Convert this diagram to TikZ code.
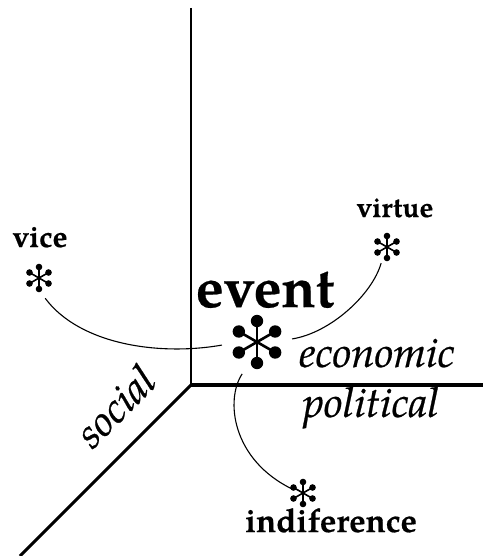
\documentclass[tikz,border=0pt]{standalone}
\usepackage{fontspec}
\setmainfont{TeX Gyre Pagella}
\usetikzlibrary{positioning}
% six-armed mark: centre, arm, dot radius, line width
\newcommand{\spark}[4]{%
  \foreach \a in {30,90,...,330}{
    \draw[line width=#4] (#1.center) -- ++(\a:#2);
    \fill (#1.center) ++(\a:#2) circle (#3);
  }}

\begin{document}
\begin{tikzpicture}[x=1pt, y=-1pt,
  link/.style={line width=1.1pt},
  starnode/.style={circle, inner sep=0pt, minimum size=#1},
  word/.style={font=\bfseries\addfontfeature{FakeBold=0.4}\fontsize{30}{32}\selectfont, anchor=base},
  field/.style={font=\itshape\addfontfeature{FakeBold=0.6}\fontsize{42}{44}\selectfont, anchor=base}]
  \useasboundingbox (0,0) rectangle (483,556);
  % axes
  \coordinate (o) at (191,385);
  \coordinate (top) at (191,8);
  \coordinate (right) at (483,385);
  \coordinate (front) at (20,556);
  \draw[line width=2.6pt] (top) -- (o);
  \draw[line width=3.6pt] (o) -- (right);
  \draw[line width=3pt] (o) -- (front);
  % marks
  \node[starnode=70] (event-star) at (257,342) {};
  \node[starnode=42] (vice-star) at (39,278) {};
  \node[starnode=34] (virtue-star) at (387,247) {};
  \node[starnode=22] (indif-star) at (303,493) {};
  \spark{event-star}{21}{6.2}{2.6}
  \spark{vice-star}{11}{3.3}{1.6}
  \spark{virtue-star}{11}{3.3}{1.6}
  \spark{indif-star}{11}{3.3}{1.6}
  % labels
  \node[word, font=\bfseries\addfontfeature{FakeBold=0.4}\fontsize{56}{60}\selectfont] (event) at (265,307) {event};
  \node[word] (vice) at (40,247) {vice};
  \node[word, font=\bfseries\addfontfeature{FakeBold=0.4}\fontsize{28}{30}\selectfont] (virtue) at (395,217) {virtue};
  \node[word, font=\bfseries\addfontfeature{FakeBold=0.4}\fontsize{33}{35}\selectfont] (indif) at (331,532) {indiference};
  \node[field] (economic) at (377,367) {economic};
  \node[field] (political) at (371,417) {political};
  \node[field, anchor=center, rotate=45] (social) at (115,406) {social};
  % links
  \draw[link] (vice-star.-73) .. controls (80,345) and (160,356) .. (event-star.185);
  \draw[link] (virtue-star.-110) .. controls (372,295) and (330,333) .. (event-star.5);
  \draw[link] (event-star.-115) .. controls (225,400) and (232,460) .. (indif-star.160);
\end{tikzpicture}
\end{document}
